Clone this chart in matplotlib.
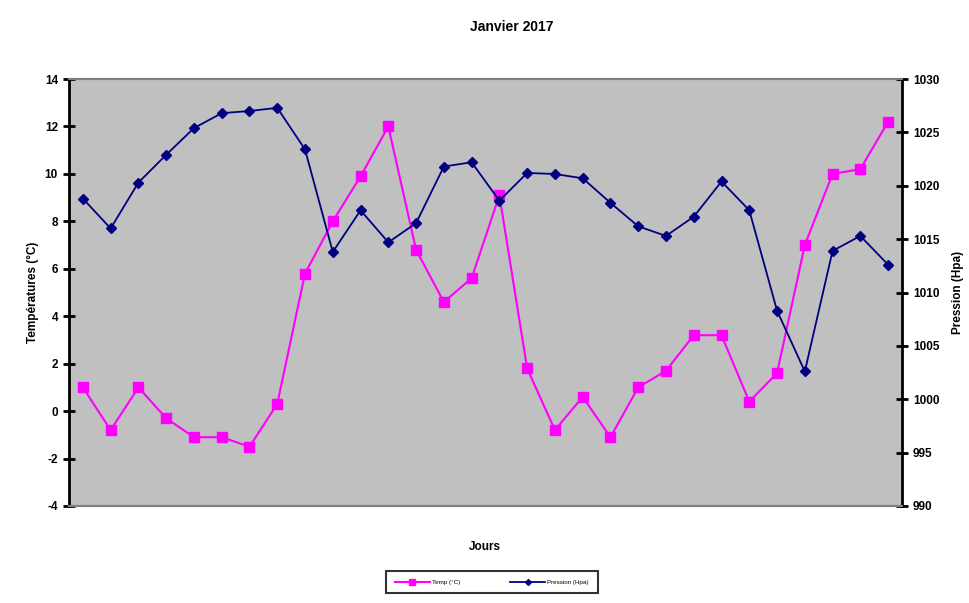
import matplotlib
matplotlib.use("Agg")
import matplotlib.pyplot as plt

plt.rcParams['font.family'] = ['Liberation Sans', 'DejaVu Sans']
plt.rcParams['axes.unicode_minus'] = False

jours = list(range(1, 31))
temp = [1.0, -0.8, 1.0, -0.3, -1.1, -1.1, -1.5, 0.3, 5.8, 8.0,
        9.9, 12.0, 6.8, 4.6, 5.6, 9.1, 1.8, -0.8, 0.6, -1.1,
        1.0, 1.7, 3.2, 3.2, 0.4, 1.6, 7.0, 10.0, 10.2, 12.2]
pression = [1018.8, 1016.0, 1020.3, 1022.9, 1025.4, 1026.8, 1027.0, 1027.3, 1023.4, 1013.8,
            1017.7, 1014.7, 1016.5, 1021.8, 1022.2, 1018.6, 1021.2, 1021.1, 1020.7, 1018.4,
            1016.2, 1015.3, 1017.1, 1020.4, 1017.7, 1008.3, 1002.6, 1013.9, 1015.3, 1012.6]

fig = plt.figure(figsize=(9.7, 6.03), dpi=100)
ax = fig.add_axes([69/970, 1-506/603, 833/970, 427/603])
ax.set_facecolor('#c0c0c0')
ax2 = ax.twinx()

l1, = ax.plot(jours, temp, color='#ff00ff', lw=1.5, marker='s', ms=6.5,
              label='Temp (°C)', zorder=3)
l2, = ax2.plot(jours, pression, color='#000080', lw=1.3, marker='D', ms=5,
               label='Pression (Hpa)', zorder=3)

ax.set_xlim(0.5, 30.5)
ax.set_ylim(-4, 14)
ax.set_yticks(range(-4, 15, 2))
ax2.set_ylim(990, 1030)
ax2.set_yticks(range(990, 1031, 5))
ax.set_xticks([])

for a in (ax, ax2):
    a.spines['top'].set_color('#808080')
    a.spines['bottom'].set_color('#808080')
    a.spines['top'].set_linewidth(1.5)
    a.spines['bottom'].set_linewidth(1.5)
ax.spines['left'].set_linewidth(2)
ax2.spines['right'].set_linewidth(2)
ax.tick_params(axis='y', direction='inout', length=8, width=2, labelsize=8.5, pad=4)
ax2.tick_params(axis='y', direction='inout', length=8, width=2, labelsize=8.5, pad=4)
for lab in ax.get_yticklabels() + ax2.get_yticklabels():
    lab.set_fontweight('bold')

ax.set_ylabel('Températures (°C)', fontsize=8.5, fontweight='bold', labelpad=4)
ax2.set_ylabel('Pression (Hpa)', fontsize=8.5, fontweight='bold', labelpad=9)
fig.text(512/970, 1-27/603, 'Janvier 2017', ha='center', va='center',
         fontsize=10, fontweight='bold')
fig.text(485/970, 1-547/603, 'Jours', ha='center', va='center',
         fontsize=8.5, fontweight='bold')

leg = fig.legend(handles=[l1, l2], loc='center', ncol=2,
                 bbox_to_anchor=(492/970, 1-582/603), fontsize=4.5,
                 frameon=True, fancybox=False, edgecolor='black',
                 handlelength=5.5, columnspacing=8, borderpad=1.4,
                 borderaxespad=0, handletextpad=0.4, markerscale=0.6)
leg.get_frame().set_linewidth(1.5)

fig.savefig('out.png', dpi=100)
plt.close()
